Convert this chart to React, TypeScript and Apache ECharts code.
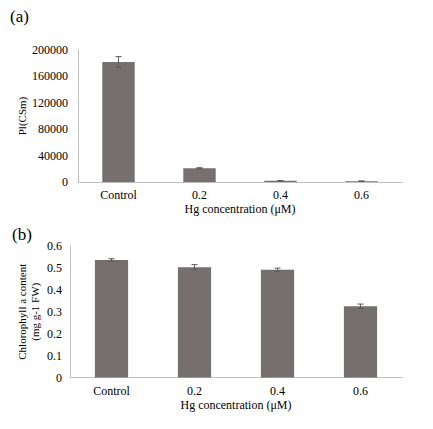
import { useEffect, useRef } from "react";
import * as echarts from "echarts";

const categories = ["Control", "0.2", "0.4", "0.6"];
const piValues = [182000, 21000, 1800, 1300];
const piErrors = [8000, 700, 500, 400];
const chlValues = [0.536, 0.503, 0.492, 0.325];
const chlErrors = [0.006, 0.012, 0.007, 0.01];
const piAxis = { min: 0, max: 200000, interval: 40000 };
const chlAxis = { min: 0, max: 0.6, interval: 0.1 };
const xName = "Hg concentration (μM)";
const piName = "Pl(CSm)";
const chlName = "Chlorophyll a content\n(mg g-1 FW)";

const FONT = "'Liberation Serif', 'Times New Roman', serif";
const BAR = "#766f6f";
const AXIS = "#bfbfbf";
const TXT = "#000";

const errorItem = (params: any, api: any) => {
  const x = api.value(0);
  const lo = api.coord([x, api.value(1)]);
  const hi = api.coord([x, api.value(2)]);
  const half = 3;
  const style = { stroke: "#5a5a5a", lineWidth: 1 };
  return {
    type: "group",
    children: [
      { type: "line", shape: { x1: hi[0], y1: hi[1], x2: lo[0], y2: lo[1] }, style },
      { type: "line", shape: { x1: hi[0] - half, y1: hi[1], x2: hi[0] + half, y2: hi[1] }, style },
      { type: "line", shape: { x1: lo[0] - half, y1: lo[1], x2: lo[0] + half, y2: lo[1] }, style },
    ],
  };
};

export default function App() {
  const ref = useRef<HTMLDivElement>(null);
  useEffect(() => {
    document.body.style.margin = "0";
    const chart = echarts.init(ref.current!, null, { renderer: "svg" });
    const xAxisBase = (gridIndex: number) => ({
      type: "category",
      gridIndex,
      data: categories,
      name: xName,
      nameLocation: "middle",
      nameGap: 21,
      nameMoveOverlap: false,
      nameTextStyle: { fontFamily: FONT, fontSize: 12, color: TXT },
      axisLine: { lineStyle: { color: AXIS, width: 1 } },
      axisTick: { show: false },
      axisLabel: { fontFamily: FONT, fontSize: 12, color: TXT, margin: 7 },
    });
    const yAxisBase = (gridIndex: number, cfg: any, name: string, gap: number, margin: number) => ({
      type: "value",
      gridIndex,
      ...cfg,
      name,
      nameLocation: "middle",
      nameGap: gap,
      nameMoveOverlap: false,
      nameTextStyle: { fontFamily: FONT, fontSize: 11, color: TXT, lineHeight: 13 },
      axisLine: { show: true, lineStyle: { color: AXIS, width: 1 } },
      axisTick: { show: false },
      splitLine: { show: false },
      axisLabel: {
        fontFamily: FONT,
        fontSize: 12,
        color: TXT,
        margin,
        formatter: (v: number) => String(Math.round(v * 1000) / 1000),
      },
    });
    chart.setOption({
      animation: false,
      backgroundColor: "#fff",
      grid: [
        { left: 78, top: 50, width: 324, height: 132 },
        { left: 70, top: 246, width: 332, height: 131.5 },
      ],
      xAxis: [xAxisBase(0), xAxisBase(1)],
      yAxis: [
        yAxisBase(0, piAxis, piName, 50, 10),
        yAxisBase(1, chlAxis, chlName, 29, 8),
      ],
      graphic: [
        { type: "text", left: 10, top: 8, style: { text: "(a)", font: `17px ${FONT}`, fill: TXT } },
        { type: "text", left: 12, top: 226, style: { text: "(b)", font: `17px ${FONT}`, fill: TXT } },
      ],
      series: [
        {
          type: "bar",
          xAxisIndex: 0,
          yAxisIndex: 0,
          data: piValues,
          barWidth: "40%",
          itemStyle: { color: BAR },
        },
        {
          type: "custom",
          xAxisIndex: 0,
          yAxisIndex: 0,
          renderItem: errorItem,
          encode: { x: 0, y: [1, 2] },
          data: piValues.map((v, i) => [i, v - piErrors[i], v + piErrors[i]]),
          z: 5,
        },
        {
          type: "bar",
          xAxisIndex: 1,
          yAxisIndex: 1,
          data: chlValues,
          barWidth: "40%",
          itemStyle: { color: BAR },
        },
        {
          type: "custom",
          xAxisIndex: 1,
          yAxisIndex: 1,
          renderItem: errorItem,
          encode: { x: 0, y: [1, 2] },
          data: chlValues.map((v, i) => [i, v - chlErrors[i], v + chlErrors[i]]),
          z: 5,
        },
      ],
    });
    return () => chart.dispose();
  }, []);
  return <div ref={ref} style={{ width: 433, height: 429 }} />;
}
